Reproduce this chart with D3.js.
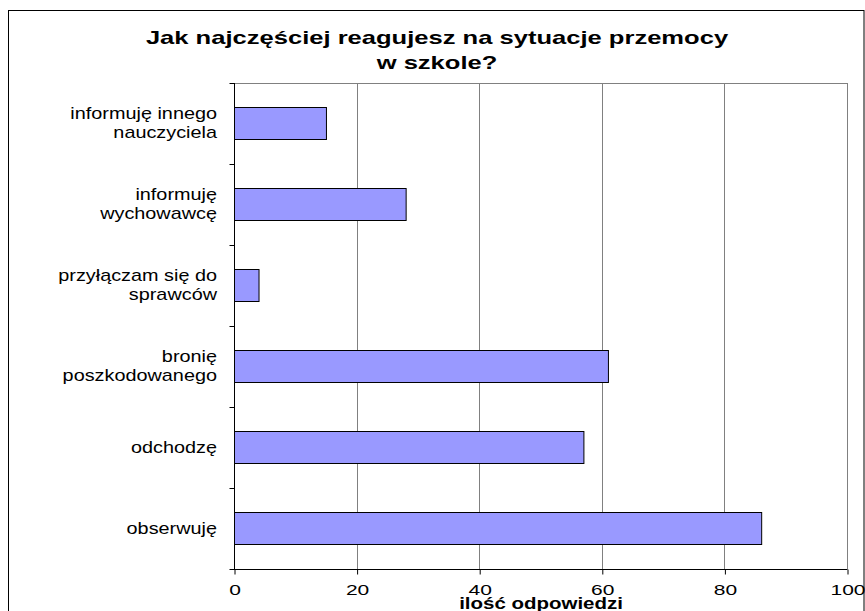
<!DOCTYPE html>
<html>
<head>
<meta charset="utf-8">
<script src="https://cdn.jsdelivr.net/npm/d3@7"></script>
<style>
  html, body { margin: 0; padding: 0; background: #fff; }
  svg { display: block; font-family: "Liberation Sans", Arial, sans-serif; }
</style>
</head>
<body>
<div id="chart"></div>
<script>
// ========== DATA ==========
const categories = [
  ['informuję innego', 'nauczyciela'],
  ['informuję', 'wychowawcę'],
  ['przyłączam się do', 'sprawców'],
  ['bronię', 'poszkodowanego'],
  ['odchodzę'],
  ['obserwuję']
];
const values = [15, 28, 4, 61, 57, 86];
const xTicks = [0, 20, 40, 60, 80, 100];
const titleLines = ['Jak najczęściej reagujesz na sytuacje przemocy', 'w szkole?'];
const xTitle = 'ilość odpowiedzi';

// text in the source picture is stretched sideways, so scale it in x only
function wideText(g, x, y, str, size, sx, anchor, bold) {
  g.append('text')
    .attr('transform', `translate(${x},${y}) scale(${sx},1)`)
    .attr('text-anchor', anchor)
    .style('font-size', size + 'px')
    .style('font-weight', bold ? 'bold' : 'normal')
    .style('fill', '#000')
    .text(str);
}

function drawBarChart(containerId) {
  const W = 865, H = 611;
  const plot = { left: 234, right: 847, top: 83, bottom: 569 };

  const svg = d3.select(`#${containerId}`).append('svg')
    .attr('width', W).attr('height', H);

  // Outer chart frame
  svg.append('rect').attr('x', 8.5).attr('y', 10.5).attr('width', 855.5).attr('height', 620)
    .attr('fill', '#fff').attr('stroke', '#000').attr('stroke-width', 1);

  const data = categories.map((c, i) => ({ key: String(i), lines: c, value: values[i] }));

  const x = d3.scaleLinear().domain([0, 100]).range([plot.left, plot.right]);
  const y = d3.scaleBand().domain(data.map(d => d.key)).range([plot.top, plot.bottom])
    .paddingInner(0.6).paddingOuter(0.3);
  const band = d3.scaleBand().domain(data.map(d => d.key)).range([plot.top, plot.bottom]);

  // Grid
  svg.append('g').selectAll('line').data(xTicks.slice(1)).enter().append('line')
    .attr('x1', d => Math.round(x(d)) + 0.5).attr('x2', d => Math.round(x(d)) + 0.5)
    .attr('y1', plot.top).attr('y2', plot.bottom)
    .attr('stroke', '#808080').attr('stroke-width', 1);
  svg.append('line').attr('x1', plot.left).attr('x2', plot.right + 0.5)
    .attr('y1', plot.top + 0.5).attr('y2', plot.top + 0.5)
    .attr('stroke', '#808080');

  // Bars
  svg.append('g').selectAll('rect').data(data).enter().append('rect')
    .attr('x', x(0) + 0.5)
    .attr('y', d => Math.round(y(d.key)) + 0.5)
    .attr('width', d => x(d.value) - x(0))
    .attr('height', Math.round(y.bandwidth()))
    .attr('fill', '#9999FF').attr('stroke', '#000').attr('stroke-width', 1);

  // X axis
  const xAxis = svg.append('g').attr('transform', `translate(0.5,${plot.bottom + 0.5})`)
    .call(d3.axisBottom(x).tickValues(xTicks).tickSize(5).tickFormat(''));
  xAxis.select('.domain').attr('d', `M${plot.left - 5},0H${plot.right}`).attr('stroke', '#000');
  xAxis.selectAll('.tick line').attr('stroke', '#000');
  const xl = svg.append('g');
  xTicks.forEach(t => wideText(xl, x(t) + 1, 595, String(t), 14, 1.5, 'middle', false));

  // Y axis (ticks between categories)
  const yg = svg.append('g').attr('transform', `translate(${plot.left + 0.5},0)`);
  yg.append('line').attr('x1', 0).attr('x2', 0).attr('y1', plot.top).attr('y2', plot.bottom)
    .attr('stroke', '#000');
  yg.selectAll('.ytick').data(data.slice(1)).enter().append('line')
    .attr('x1', -5).attr('x2', 0)
    .attr('y1', d => Math.round(band(d.key)) + 0.5).attr('y2', d => Math.round(band(d.key)) + 0.5)
    .attr('stroke', '#000');
  yg.append('line').attr('x1', -5).attr('x2', 0)
    .attr('y1', plot.top + 0.5).attr('y2', plot.top + 0.5).attr('stroke', '#000');

  // Category labels
  const lh = 18.7;
  const lg = svg.append('g');
  data.forEach(d => {
    const cy = band(d.key) + band.bandwidth() / 2;
    const n = d.lines.length;
    d.lines.forEach((ln, j) => {
      wideText(lg, 217, cy + (j - (n - 1) / 2) * lh + 5, ln, 16, 1.24, 'end', false);
    });
  });

  // Title
  const tg = svg.append('g');
  titleLines.forEach((t, i) => wideText(tg, 437, 44 + i * 25, t, 18, 1.42, 'middle', true));

  // Axis title
  wideText(svg, 541, 609, xTitle, 16, 1.28, 'middle', true);
}

drawBarChart('chart');
</script>
</body>
</html>
